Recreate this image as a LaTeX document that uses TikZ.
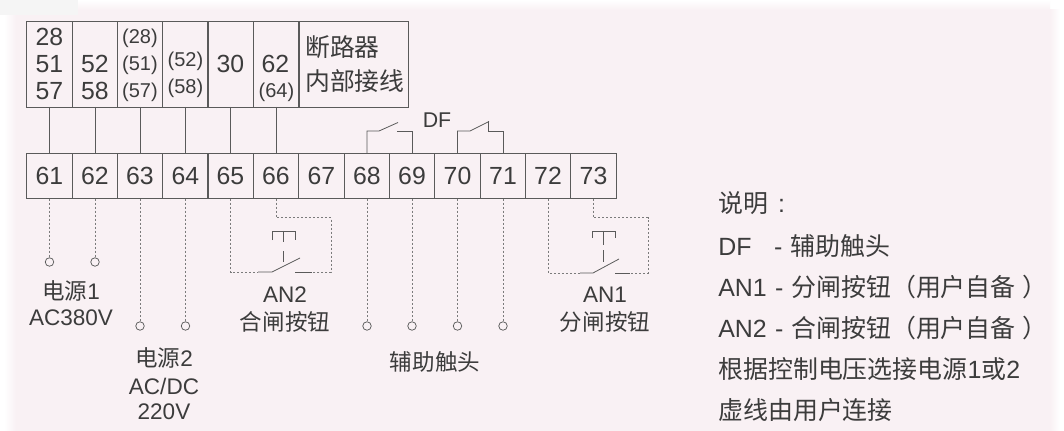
\documentclass[tikz,border=0pt]{standalone}
\usepackage{fontspec}
\setmainfont{Liberation Sans}
\newfontfamily\cjkf{Noto Sans CJK SC}
\newcommand{\zh}[1]{{\cjkf #1}}
\definecolor{bgpink}{HTML}{F9F1F4}
\definecolor{ink}{HTML}{3C3C3C}
\definecolor{wire}{HTML}{5A5A5A}
\tikzset{
  cellbox/.style={draw=wire,line width=0.7pt,minimum width=45.3*0.75pt,minimum height=45.5*0.75pt,inner sep=0pt,outer sep=0pt},
  headbox/.style={draw=wire,line width=0.7pt,minimum height=86*0.75pt,inner sep=0pt,outer sep=0pt},
  txt/.style={anchor=base,inner sep=0pt,text=ink,font=\fontsize{18.6}{18}\selectfont},
  ptxt/.style={anchor=base,inner sep=0pt,text=ink,font=\fontsize{15}{15}\selectfont},
  ltxt/.style={anchor=base,inner sep=0pt,text=ink,font=\fontsize{16.9}{17}\selectfont},
  legtxt/.style={anchor=base west,inner sep=0pt,text=ink,font=\fontsize{18.7}{18}\selectfont},
  wirel/.style={draw=wire,line width=0.7pt},
  sw/.style={draw=wire,line width=0.6pt},
  dotw/.style={draw=wire!80,line width=0.75pt,dash pattern=on 1.4pt off 1.6pt},
  term/.style={circle,draw=wire,line width=0.55pt,minimum size=8.5*0.75pt,inner sep=0pt,outer sep=0pt,fill=bgpink},
}
\begin{document}
\begin{tikzpicture}[x=0.75pt,y=-0.75pt]
\useasboundingbox (0,0) rectangle (1064,431);
% background
\fill[white] (0,0) rectangle (1064,431);
\fill[bgpink] (16,10) rectangle (1050,431);
\shade[left color=white,right color=bgpink] (4,10) rectangle (16,431);
\shade[left color=bgpink,right color=white] (1050,10) rectangle (1060,431);
\shade[top color=white,bottom color=bgpink] (16,0) rectangle (1050,10);
\fill[black!4] (0,0) rectangle (78,15);
% header boxes
\node[headbox,minimum width=45.3*0.75pt] (h1) at (49.5,64) {};
\node[headbox,minimum width=45.3*0.75pt] (h2) at (95,64) {};
\node[headbox,minimum width=45.3*0.75pt] (h3) at (140,64) {};
\node[headbox,minimum width=45.3*0.75pt] (h4) at (185.5,64) {};
\node[headbox,minimum width=45.3*0.75pt] (h5) at (230.5,64) {};
\node[headbox,minimum width=45.3*0.75pt] (h6) at (276,64) {};
\node[headbox,minimum width=109*0.75pt] (h7) at (353.5,64) {};
% header text
\node[txt] (a28) at (49.5,46) {28};
\node[txt] (a51) at (49.5,72.5) {51};
\node[txt] (a57) at (49.5,99.5) {57};
\node[txt] (b52) at (95,72.5) {52};
\node[txt] (b58) at (95,99.5) {58};
\node[ptxt] (c28) at (140,44) {(28)};
\node[ptxt] (c51) at (140,71) {(51)};
\node[ptxt] (c57) at (140,98) {(57)};
\node[ptxt] (d52) at (185.5,67) {(52)};
\node[ptxt] (d58) at (185.5,94) {(58)};
\node[txt] (e30) at (230.5,72.5) {30};
\node[txt] (f62) at (275.5,72.5) {62};
\node[ptxt] (f64) at (276.5,98) {(64)};
\node[txt,anchor=base west] (g1) at (305,56.5) {\zh{断路器}};
\node[txt,anchor=base west] (g2) at (305,90.5) {\zh{内部接线}};
% terminals
\foreach \n/\x in {61/49.5,62/95,63/140,64/185.5,65/230.5,66/276,67/321.5,68/367,69/412,70/457.5,71/503,72/548,73/593.5}{
  \node[cellbox] (t\n) at (\x,176) {};
  \node[txt] (l\n) at (\x,184.5) {\n};
}
% fixed links
\foreach \h/\t in {h1/t61,h2/t62,h3/t63,h4/t64,h5/t65,h6/t66}{
  \draw[wirel] (\h.south) -- (\t.north);
}
% end terminals
\node[term] (c61) at (49.5,262) {};
\node[term] (c62) at (95,262) {};
\node[term] (c63) at (140,326) {};
\node[term] (c64) at (185.5,326) {};
\node[term] (c68) at (367,326) {};
\node[term] (c69) at (412,326) {};
\node[term] (c70) at (457.5,326) {};
\node[term] (c71) at (503,326) {};
\foreach \n in {61,62,63,64,68,69,70,71}{
  \draw[dotw] (t\n.south) -- (c\n.north);
}
% DF contacts
\coordinate (s1a) at (379,131);
\coordinate (s1b) at (398,122.5);
\coordinate (s1c) at (397,131);
\draw[sw] (t68.north) |- (s1a) -- (s1b);
\draw[sw] (t69.north) |- (s1c);
\coordinate (s2a) at (470,131);
\coordinate (s2b) at (489,121.5);
\coordinate (s2c) at (488,131);
\coordinate (s2d) at (488,121);
\draw[sw] (t70.north) |- (s2a) -- (s2b);
\draw[sw] (t71.north) |- (s2c) -- (s2d);
\node[ltxt,font=\fontsize{16}{16}\selectfont] (df) at (437,127.5) {DF};
% AN2
\coordinate (p1a) at (258,272);
\coordinate (p1b) at (272,272);
\coordinate (p1c) at (300,258);
\coordinate (p1d) at (295,272);
\coordinate (p1e) at (312,272);
\coordinate (p1f) at (331,218);
\draw[dotw] (t65.south) |- (p1a);
\draw[dotw] (t66.south) |- (p1f) |- (p1e);
\draw[sw] (p1a) -- (p1b) -- (p1c);
\draw[sw] (p1d) -- (p1e);
\coordinate (p1t) at (283.5,231);
\draw[sw] (272,240) |- (295,231) -- (295,240);
\draw[sw] (p1t) -- ++(0,11);
\draw[sw] (283.5,251) -- (283.5,262);
% AN1
\coordinate (p2a) at (580,273);
\coordinate (p2b) at (593,273);
\coordinate (p2c) at (619,259);
\coordinate (p2d) at (615,273);
\coordinate (p2f) at (648,218);
\coordinate (p2e) at (648,273);
\draw[dotw] (t72.south) |- (p2a);
\draw[dotw] (t73.south) |- (p2f) -- (p2e) -- (630,273);
\draw[sw] (p2a) -- (p2b) -- (p2c);
\draw[sw] (p2d) -- (630,273);
\coordinate (p2t) at (603.5,231);
\draw[sw] (592,238) |- (615,231) -- (615,238);
\draw[sw] (p2t) -- ++(0,14);
\draw[sw] (603.5,250) -- (603.5,262);
% labels
\node[ltxt] (n1) at (71,299.5) {\zh{电源}1};
\node[ltxt] (n2) at (71,325) {AC380V};
\node[ltxt] (n3) at (164,366) {\zh{电源}2};
\node[ltxt] (n4) at (164,394) {AC/DC};
\node[ltxt] (n5) at (164,419) {220V};
\node[ltxt] (n6) at (285,302) {AN2};
\node[ltxt] (n7) at (285,330) {\zh{合闸按钮}};
\node[ltxt] (n8) at (605,302) {AN1};
\node[ltxt] (n9) at (605,330) {\zh{分闸按钮}};
\node[ltxt] (n10) at (435,370) {\zh{辅助触头}};
% legend
\node[legtxt] (k1) at (718,213) {\zh{说明}\hspace{7.5pt}:};
\node[legtxt] (k2) at (718,255) {DF\hspace{17pt}-\hspace{6pt}\zh{辅助触头}};
\node[legtxt] (k3) at (718,296) {AN1\hspace{1pt} -\hspace{6pt}\zh{分闸按钮（用户自备\hspace{5pt}）}};
\node[legtxt] (k4) at (718,337) {AN2\hspace{1pt} -\hspace{6pt}\zh{合闸按钮（用户自备\hspace{5pt}）}};
\node[legtxt] (k5) at (718,378) {\zh{根据控制电压选接电源}1\zh{或}2};
\node[legtxt] (k6) at (718,419) {\zh{虚线由用户连接}};
\end{tikzpicture}
\end{document}
